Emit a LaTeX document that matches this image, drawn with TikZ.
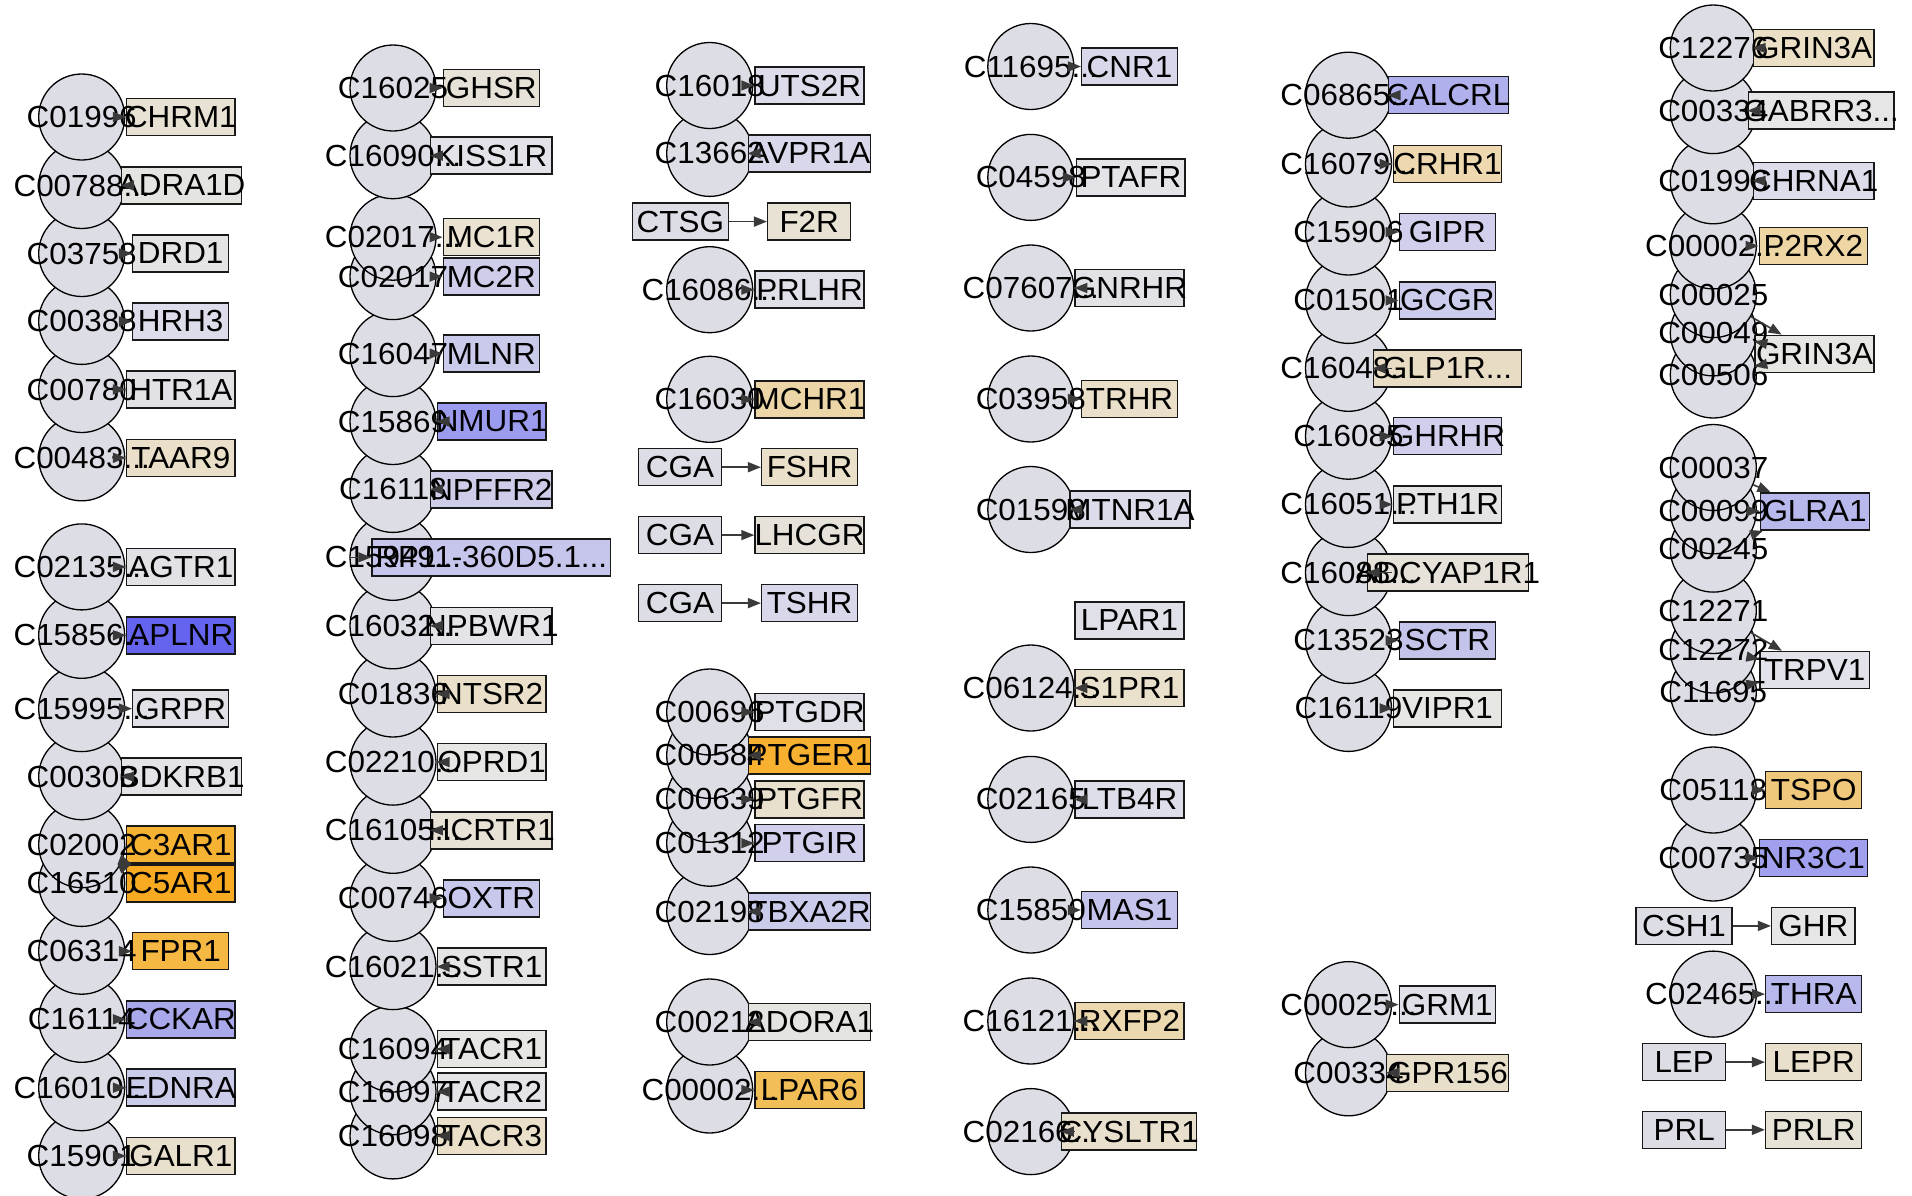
\documentclass[tikz,border=0pt]{standalone}
\usepackage{fontspec}
\setmainfont[FakeStretch=1.03]{Liberation Sans}
\usetikzlibrary{arrows.meta}
\pgfdeclarelayer{bglayer}
\pgfdeclarelayer{ellayer}
\pgfdeclarelayer{boxlayer}
\pgfsetlayers{bglayer,ellayer,boxlayer,main}
\definecolor{cfill}{HTML}{DDDDE6}
\definecolor{edgec}{HTML}{3A3A3A}
\tikzset{
 cnode/.style={circle, draw=black, line width=1.3pt, fill=cfill, minimum size=86pt, inner sep=0pt},
 gbox/.style={rectangle, draw=black!90, line width=1.5pt, minimum height=37pt, inner sep=0pt},
 lbl/.style={inner sep=0pt, font=\fontsize{30.5}{30.5}\selectfont, text=black},
 edge/.style={draw=edgec, line width=1.6pt, -{Triangle[length=13pt,width=10pt]}},
}
\newcommand\mycpd[4]{%
 \begin{pgfonlayer}{ellayer}\node[cnode] (#1) at (#2,#3) {};\end{pgfonlayer}
 \node[lbl] (#1t) at (#2,#3) {#4};}
\newcommand\mybox[6]{%
 \definecolor{tmpc}{HTML}{#5}%
 \begin{pgfonlayer}{boxlayer}\node[gbox, fill=tmpc, minimum width={#3-#2}] (#1) at ({(#2+#3)/2},#4) {};\end{pgfonlayer}
 \node[lbl] (#1t) at ({(#2+#3)/2},#4) {#6};}
\begin{document}
\begin{tikzpicture}[x=1pt,y=-1pt]
\begin{pgfonlayer}{bglayer}
\fill[white] (0,0) rectangle (1912,1195);
\end{pgfonlayer}
\useasboundingbox (0,0) rectangle (1912,1195);
% ---------- column A ----------
\mycpd{a16}{81.7}{1155.9}{C15901}
\mycpd{a15}{81.7}{1087.7}{C16010...}
\mycpd{a14}{81.7}{1019.3}{C16114}
\mycpd{a13}{81.7}{951.2}{C06314}
\mycpd{a12}{81.7}{883.4}{C16510}
\mycpd{a11}{81.7}{844.7}{C02002}
\mycpd{a10}{81.7}{776.7}{C00306}
\mycpd{a9}{81.7}{708.6}{C15995...}
\mycpd{a8}{81.7}{635.3}{C15856...}
\mycpd{a7}{81.7}{566.9}{C02135...}
\mycpd{a6}{81.7}{457.8}{C00483...}
\mycpd{a5}{81.7}{389.5}{C00780}
\mycpd{a4}{81.7}{321.4}{C00388}
\mycpd{a3}{81.7}{253.5}{C03758}
\mycpd{a2}{81.7}{185.5}{C00788...}
\mycpd{a1}{81.7}{117}{C01996}
\mybox{ra1}{126.7}{235}{117}{E8E2D4}{CHRM1}
\mybox{ra2}{121.7}{241.7}{185.5}{E4E4E0}{ADRA1D}
\mybox{ra3}{132.7}{228.7}{253.5}{E4E4E4}{DRD1}
\mybox{ra4}{132.7}{228.7}{321.4}{DCDCEA}{HRH3}
\mybox{ra5}{126.7}{235}{389.5}{E2E2E6}{HTR1A}
\mybox{ra6}{126.7}{235}{457.8}{EADFC8}{TAAR9}
\mybox{ra7}{126.7}{235}{566.9}{E2E2E6}{AGTR1}
\mybox{ra8}{126.7}{235}{635.3}{6464EE}{APLNR}
\mybox{ra9}{132.7}{228.7}{708.6}{E0E0E6}{GRPR}
\mybox{ra10}{121.7}{241.7}{776.7}{E4E4E8}{BDKRB1}
\mybox{ra11}{126.7}{235}{844.7}{F5B233}{C3AR1}
\mybox{ra12}{126.7}{235}{883.4}{F8AA22}{C5AR1}
\mybox{ra13}{132.7}{228.7}{951.2}{F5B842}{FPR1}
\mybox{ra14}{126.7}{235}{1019.3}{A8A8EA}{CCKAR}
\mybox{ra15}{126.7}{235}{1087.7}{CBCBEA}{EDNRA}
\mybox{ra16}{126.7}{235}{1155.9}{E8DFCC}{GALR1}
% ---------- column B ----------
\mycpd{b17}{393}{1135.9}{C16098}
\mycpd{b16}{393}{1091.7}{C16097}
\mycpd{b15}{393}{1049}{C16094}
\mycpd{b14}{393}{966.6}{C16021...}
\mycpd{b13}{393}{898.3}{C00746}
\mycpd{b12}{393}{830.3}{C16105...}
\mycpd{b11}{393}{762.1}{C02210...}
\mycpd{b10}{393}{694}{C01836}
\mycpd{b9}{393}{625.8}{C16032...}
\mycpd{b8}{393}{557.3}{C15949...}
\mycpd{b7}{393}{489.4}{C16118}
\mycpd{b6}{393}{421.5}{C15869}
\mycpd{b5}{393}{353.6}{C16047}
\mycpd{b4}{393}{276.6}{C02017}
\mycpd{b3}{393}{237.2}{C02017...}
\mycpd{b2}{393}{155.7}{C16090...}
\mycpd{b1}{393}{88}{C16025}
\mybox{rb1}{443.3}{539.3}{88}{E6E2D8}{GHSR}
\mybox{rb2}{430.7}{552}{155.7}{E2E2E8}{KISS1R}
\mybox{rb3}{443.3}{539.3}{237.2}{EAE3D2}{MC1R}
\mybox{rb4}{443.3}{539.3}{276.6}{CECEEA}{MC2R}
\mybox{rb5}{443.3}{539.3}{353.6}{CACAEA}{MLNR}
\mybox{rb6}{437.3}{546}{421.5}{9C9CEE}{NMUR1}
\mybox{rb7}{430.7}{552}{489.4}{CDCDEA}{NPFFR2}
\mybox{rb8}{372}{610.7}{557.3}{C6C6EC}{RP11-360D5.1...}
\mybox{rb9}{430.7}{552}{625.8}{E4E4E8}{NPBWR1}
\mybox{rb10}{437.3}{546}{694}{EADFC8}{NTSR2}
\mybox{rb11}{437.3}{546}{762.1}{E6E6E4}{OPRD1}
\mybox{rb12}{430.7}{552}{830.3}{E8E2D6}{HCRTR1}
\mybox{rb13}{443.3}{539.3}{898.3}{C8C8EC}{OXTR}
\mybox{rb14}{437.3}{546}{966.6}{E4E4E4}{SSTR1}
\mybox{rb15}{437.3}{546}{1049}{E6E6E2}{TACR1}
\mybox{rb16}{437.3}{546}{1091.7}{E4E4E8}{TACR2}
\mybox{rb17}{437.3}{546}{1135.9}{EADFC8}{TACR3}
% ---------- column C ----------
\mycpd{c15}{709.7}{1090}{C00002...}
\mycpd{c14}{709.7}{1022}{C00212}
\mycpd{c13}{709.7}{911.5}{C02198}
\mycpd{c12}{709.7}{843.2}{C01312}
\mycpd{c11}{709.7}{799.3}{C00639}
\mycpd{c10}{709.7}{755.4}{C00584}
\mycpd{c9}{709.7}{712}{C00696}
\mycpd{c5}{709.7}{399.3}{C16030}
\mycpd{c4}{709.7}{289.7}{C16086...}
\mycpd{c2}{709.7}{153.4}{C13662}
\mycpd{c1}{709.7}{85.5}{C16018}
\mybox{rc1}{755}{864}{85.5}{DCDCEA}{UTS2R}
\mybox{rc2}{748.3}{870.7}{153.4}{D8D8EA}{AVPR1A}
\mybox{sc3}{632.3}{728.3}{221.6}{DDDDE6}{CTSG}
\mybox{rc3}{767.7}{850.7}{221.6}{E8E2D4}{F2R}
\mybox{rc4}{755}{864}{289.7}{E0E0E8}{PRLHR}
\mybox{rc5}{755}{864}{399.3}{ECD6A8}{MCHR1}
\mybox{sc6}{638.3}{721.7}{467.2}{DDDDE6}{CGA}
\mybox{rc6}{761.7}{857.3}{467.2}{EADFC8}{FSHR}
\mybox{sc7}{638.3}{721.7}{535.1}{DDDDE6}{CGA}
\mybox{rc7}{755}{864}{535.1}{E6E2DA}{LHCGR}
\mybox{sc8}{638.3}{721.7}{603.1}{DDDDE6}{CGA}
\mybox{rc8}{761.7}{857.3}{603.1}{D8D8EA}{TSHR}
\mybox{rc9}{755}{864}{712}{E0E0E8}{PTGDR}
\mybox{rc10}{748.3}{870.7}{755.4}{F8B030}{PTGER1}
\mybox{rc11}{755}{864}{799.3}{E8E0CC}{PTGFR}
\mybox{rc12}{755}{864}{843.2}{D0D0EC}{PTGIR}
\mybox{rc13}{748.3}{870.7}{911.5}{CACAEA}{TBXA2R}
\mybox{rc14}{748.3}{870.7}{1022}{E4E4E0}{ADORA1}
\mybox{rc15}{755}{864}{1090}{F2BE58}{LPAR6}
% ---------- column D ----------
\mycpd{d11}{1030.8}{1131.6}{C02166...}
\mycpd{d10}{1030.8}{1021}{C16121...}
\mycpd{d9}{1030.8}{910}{C15850}
\mycpd{d8}{1030.8}{799.4}{C02165}
\mycpd{d7}{1030.8}{688}{C06124...}
\mycpd{d5}{1030.8}{509.5}{C01598}
\mycpd{d4}{1030.8}{399}{C03958}
\mycpd{d3}{1030.8}{288}{C07607...}
\mycpd{d2}{1030.8}{177.4}{C04598}
\mycpd{d1}{1030.8}{66.5}{C11695...}
\mybox{rd1}{1081.7}{1177.3}{66.5}{D8D8EA}{CNR1}
\mybox{rd2}{1076.7}{1185}{177.4}{E4E4E8}{PTAFR}
\mybox{rd3}{1075}{1184}{288}{E2E2E6}{GNRHR}
\mybox{rd4}{1081.7}{1177.3}{399}{EADFC8}{TRHR}
\mybox{rd5}{1070}{1190}{509.5}{DCDCEA}{MTNR1A}
\mybox{rd6}{1075}{1184}{620.3}{E0E0E8}{LPAR1}
\mybox{rd7}{1075}{1184}{688}{EAE1CC}{S1PR1}
\mybox{rd8}{1075}{1184}{799.4}{DEDEEA}{LTB4R}
\mybox{rd9}{1081.7}{1177.3}{910}{C4C4EC}{MAS1}
\mybox{rd10}{1075}{1184}{1021}{ECD8AE}{RXFP2}
\mybox{rd11}{1061.7}{1196.7}{1131.6}{E8E0CC}{CYSLTR1}
% ---------- column E ----------
\mycpd{e12}{1348.5}{1072.8}{C00334}
\mycpd{e11}{1348.5}{1004.6}{C00025...}
\mycpd{e10}{1348.5}{708.4}{C16119}
\mycpd{e9}{1348.5}{640.4}{C13523}
\mycpd{e8}{1348.5}{572.6}{C16088...}
\mycpd{e7}{1348.5}{504.4}{C16051...}
\mycpd{e6}{1348.5}{436.2}{C16085}
\mycpd{e5}{1348.5}{368.3}{C16048...}
\mycpd{e4}{1348.5}{300.4}{C01501}
\mycpd{e3}{1348.5}{232}{C15906}
\mycpd{e2}{1348.5}{164}{C16079...}
\mycpd{e1}{1348.5}{95.2}{C06865...}
\mybox{re1}{1388.3}{1508.3}{95.2}{B0B0EC}{CALCRL}
\mybox{re2}{1393.3}{1501.7}{164}{EDD8B0}{CRHR1}
\mybox{re3}{1399.3}{1495.3}{232}{D0D0EC}{GIPR}
\mybox{re4}{1399.3}{1495.3}{300.4}{CCCCEC}{GCGR}
\mybox{re5}{1373.3}{1521.7}{368.3}{E8DCC4}{GLP1R...}
\mybox{re6}{1393.3}{1501.7}{436.2}{D0D0EC}{GHRHR}
\mybox{re7}{1393.3}{1501.7}{504.4}{E4E4E4}{PTH1R}
\mybox{re8}{1367.3}{1528.3}{572.6}{E6E2DA}{ADCYAP1R1}
\mybox{re9}{1399.3}{1495.3}{640.4}{C4C4EA}{SCTR}
\mybox{re10}{1393.3}{1501.7}{708.4}{E6E6E2}{VIPR1}
\mybox{re11}{1399.3}{1495.3}{1004.6}{E0E0E8}{GRM1}
\mybox{re12}{1386.7}{1508.3}{1072.8}{E8DFCA}{GPR156}
% ---------- column F ----------
\mycpd{f17}{1713.3}{994.1}{C02465...}
\mycpd{f15}{1713.3}{858}{C00735}
\mycpd{f14}{1713.3}{790}{C05118}
\mycpd{f13}{1713.3}{692}{C11695}
\mycpd{f12}{1713.3}{650}{C12272}
\mycpd{f11}{1713.3}{610.5}{C12271}
\mycpd{f10}{1713.3}{549.1}{C00245}
\mycpd{f9}{1713.3}{510.8}{C00099}
\mycpd{f8}{1713.3}{467.5}{C00037}
\mycpd{f7}{1713.3}{375}{C00506}
\mycpd{f6}{1713.3}{332.9}{C00049}
\mycpd{f5}{1713.3}{294.6}{C00025}
\mycpd{f4}{1713.3}{245.9}{C00002...}
\mycpd{f3}{1713.3}{180.8}{C01996}
\mycpd{f2}{1713.3}{110.6}{C00334}
\mycpd{f1}{1713.3}{48}{C12276}
\mybox{rf1}{1753.3}{1874}{48}{EBDFC6}{GRIN3A}
\mybox{rf2}{1748.3}{1894}{110.6}{E6E6E6}{GABRR3...}
\mybox{rf3}{1753.3}{1874}{180.8}{DCDCEA}{CHRNA1}
\mybox{rf4}{1759.3}{1867.3}{245.9}{EED6A4}{P2RX2}
\mybox{rf5}{1755}{1874}{353.8}{E6E6E2}{GRIN3A}
\mybox{rf8}{1760.7}{1869.3}{511.4}{B8B8EC}{GLRA1}
\mybox{rf11}{1760}{1869.3}{670}{E2E2EA}{TRPV1}
\mybox{rf14}{1765.7}{1861.7}{790}{F0C87C}{TSPO}
\mybox{rf15}{1759.3}{1867.3}{858}{A0A0EE}{NR3C1}
\mybox{sf16}{1636}{1732}{925.9}{DDDDE6}{CSH1}
\mybox{rf16}{1771.7}{1855}{925.9}{E6E6E6}{GHR}
\mybox{rf17}{1765.7}{1861.7}{994.1}{B8B8EC}{THRA}
\mybox{sf18}{1642.7}{1725.7}{1062.1}{DDDDE6}{LEP}
\mybox{rf18}{1765.7}{1861.7}{1062.1}{E8E0CC}{LEPR}
\mybox{sf19}{1642.7}{1725.7}{1129.8}{DDDDE6}{PRL}
\mybox{rf19}{1765.7}{1861.7}{1129.8}{E6E2D6}{PRLR}
% ---------- edges ----------
\foreach \i in {1,...,10,13,14,15,16} {\draw[edge] (a\i) -- (ra\i);}
\draw[edge] (a11) -- (ra12);
\draw[edge] (a12) -- (ra11);
\foreach \i in {1,...,17} {\draw[edge] (b\i) -- (rb\i);}
\foreach \i in {1,2,4,5,9,10,11,12,13,14,15} {\draw[edge] (c\i) -- (rc\i);}
\foreach \i in {3,6,7,8} {\draw[edge] (sc\i) -- (rc\i);}
\foreach \i in {1,2,3,4,5,7,8,9,10,11} {\draw[edge] (d\i) -- (rd\i);}
\foreach \i in {1,...,12} {\draw[edge] (e\i) -- (re\i);}
\foreach \i in {1,2,3,4,14,15,17} {\draw[edge] (f\i) -- (rf\i);}
\foreach \i in {5,6,7} {\draw[edge] (f\i) -- (rf5);}
\foreach \i in {8,9,10} {\draw[edge] (f\i) -- (rf8);}
\foreach \i in {11,12,13} {\draw[edge] (f\i) -- (rf11);}
\foreach \i in {16,18,19} {\draw[edge] (sf\i) -- (rf\i);}
\end{tikzpicture}
\end{document}
